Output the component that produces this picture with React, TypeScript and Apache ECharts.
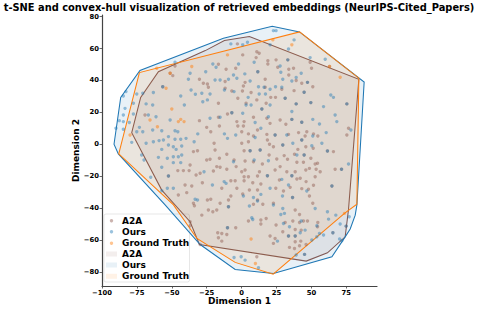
import React, { useEffect, useRef } from "react";
import * as echarts from "echarts";

const titleText = "t-SNE and convex-hull visualization of retrieved embeddings (NeurIPS-Cited_Papers)";
const xTicks = [-100, -75, -50, -25, 0, 25, 50, 75];
const yTicks = [-80, -60, -40, -20, 0, 20, 40, 60, 80];
const legendNames = ["A2A", "Ours", "Ground Truth"];

const hullOurs = [[-91.4,0],[-86.6,29.4],[-72.8,46.2],[-13,66.4],[21.9,74],[41.5,70.4],[87.8,39],[82.6,-38],[81.4,-44.4],[77.8,-53.1],[74.2,-58],[64.7,-70.5],[22.8,-81],[-4.6,-78.4],[-29.7,-62.8],[-54.8,-38],[-88.3,-6]];
const hullTruth = [[-88,-6],[-73.2,44.9],[41.5,70.4],[84,41.4],[82.6,-37.5],[73.7,-43.3],[22.6,-81.4],[-4.6,-74],[-32,-59],[-48.8,-38]];
const hullA2A = [[-78.7,7.3],[-72.3,29.4],[-59.6,45.5],[-26,58.7],[-12.3,65],[5.6,67.5],[84,40.7],[76.6,-40.8],[74.2,-58],[61.5,-68],[46.3,-73.2],[-30.2,-62.8],[-36.9,-48.5],[-57.2,-28.7]];

// points that sit in both the A2A and the Ours clouds
const sharedPoints = [[-56.5,36.1],[33.1,52.9],[11.6,45.5],[47.2,38.8],[44.8,32.6],[31.2,28.8],[39.1,25.3],[49.6,26.1],[75.4,25.3],[14.5,22.1],[-52.4,-19.9],[-7,19.8],[24,5.8],[36,15.6],[43.1,13.8],[43.1,2.7],[29.5,-0.4],[6.1,-4],[13.3,-3.6],[44.8,-6.7],[61.5,-4.2],[36,-19.7],[18.5,-19.7],[64.7,-26.2],[36.5,-33.3],[71.6,-15.7],[-10.1,-52.3],[-9.4,-39.1],[65.4,-55.4],[33.6,-57.5],[38.4,-57.5],[74.9,-51.3],[45.1,-69]];

const oursPoints = [[-84.7,30.3],[-82.8,33],[-83.5,22.5],[-77.5,25.7],[-75.1,31.5],[-70.8,32],[-68.4,25.3],[-63.7,24.6],[-63.2,32.4],[-47.7,51.4],[-43.6,30.3],[-41,24.6],[-38.1,40.7],[-36.9,44.5],[-36.2,34],[-33.1,31.3],[-28.5,32],[-27.8,26.7],[-25.7,45.5],[-22.6,31.5],[-24.5,27.8],[-20.6,50.3],[-18.3,48.3],[-19,40.3],[-15.4,40.3],[-12.3,34],[-9.4,40.7],[-5.8,43.4],[-5.4,33],[-3.4,41.4],[-7.7,62.9],[-2.2,50.3],
[22.8,71.2],[24.7,71.2],[0.8,62.3],[4.2,63.9],[20.4,62.3],[33.6,59.7],[37.6,65.4],[49.1,54.3],[59.9,53.3],[9,51.4],[27.6,49.1],[28.1,45.1],[2.3,44.1],[6.1,39.7],[29.5,40.7],[36,39.7],[39.1,41.8],[42.7,44.5],[12.1,36.1],[16.1,35.7],[12.6,31.5],[17.1,31.5],[20.4,34.5],[24.3,36.1],[28.8,35.7],[4.7,29.4],[63.9,30.9],[65.8,29.4],[58.7,23.6],[3.2,24.6],[6.8,24.6],[20.4,24.6],
[-84.7,18.4],[-87.6,14.8],[-90,10],[-84.7,14.2],[-84.7,9.4],[-80.4,13.6],[-78.7,1.2],[-77.5,19],[-75.1,7.9],[-73.2,10.6],[-70.8,7.9],[-66.8,18.4],[-61.3,17.3],[-63.7,9],[-57.2,8.5],[-68.4,0.6],[-63.2,1.6],[-59.1,2.3],[-56,2.7],[-47.7,8.5],[-45.7,7.9],[-51.2,15.2],[-52.4,4.8],[-47.7,3.1],[-43.6,3.1],[-39.8,3.7],[-57.2,-3.2],[-52.4,-0.4],[-48.9,-1.5],[-46.9,-3.2],[-42.9,-1.1],[-34,1.6],[-31.4,6.5],[-59.6,-8.2],[-53.2,-8.8],[-48.9,-7.8],[-45.3,-7.8],[-42.9,-6.7],[-71.6,-6.7],[-69.9,-9.9],[-57.2,-14.4],[-48.9,-11.5],[-43.6,-11.5],[-65.1,-20.7],[-57.2,-29.1],[-53.2,-27.6],[-48.9,-27.6],[-12.3,6.5],[-10.1,3.7],[-4.2,5.8],[-5.8,-10.9],[-26.9,-17.2],[-12.5,-23.4],[-11.1,-24.5],[-20.9,-25.5],[-33.3,-34.5],[-31.6,-34.9],[-22.6,16.3],[-15.4,16.9],
[0.8,19.4],[19.2,17.3],[9.7,13.6],[13.8,10],[9.7,4.2],[32.4,5.8],[51,15.6],[55.8,12.7],[36,20.5],[67,18.4],[68.2,14.2],[36.7,0.6],[51,5.2],[60.6,7.3],[50.3,-0.9],[57.5,0.6],[39.6,-6.7],[19.2,-10.3],[9,-9.9],[28.8,-22],[33.6,-25.5],[20.4,-27.6],[46.7,-29.3],[1.3,-32.4],[8.5,-33.3],[13.8,-31.4],[29.3,-32.4],[5.6,-38.7],[11.4,-35.6],[22.8,-38.1],[29.5,-40.2],[52.7,-40.2],[78.3,9],[76.6,-12.4],
[-5.4,-70.9],[61.5,-42.3],[30.7,-43.3],[28.1,-44],[7.3,-46],[8,-47.1],[42.7,-48.1],[30,-49.6],[34.3,-51.7],[62.3,-46.9],[67.5,-44.4],[77.1,-45.4],[70.6,-50],[53.9,-51.1],[45.5,-53.8],[50.3,-60],[53.9,-58],[55.8,-55.9],[58.7,-56.9],[25.7,-60.7],[42,-55.4],[70.2,-59.4],[71.8,-60.5],[39.1,-69.4],[2.5,-72.6],[12.1,-77.4],[-0.3,-70.5]];

const a2aPoints = [[-49.3,43],[-51.2,44.5],[-47.7,49.1],[-30.2,40.7],[-27.4,38.2],[-24.5,37.8],[-23.8,35.7],[-16.6,50.1],[-16.6,25.7],[-11.8,39.3],[-11.8,35.1],[-11.1,47],[-7,33.4],[-4.2,47.6],[-2.7,28.8],[-3,62.9],
[0.8,56],[10.9,58],[12.6,57],[10.4,54.3],[18.8,52.4],[18.8,50.3],[24.7,52.9],[25.9,48.3],[33.8,47],[33.8,43.4],[37.2,47.6],[50.1,47.6],[49.1,51.4],[16.9,40.7],[2.5,38.8],[1.3,36.5],[0.6,33.4],[6.8,32.4],[16.9,35.7],[20.9,29.4],[24.3,29.4],[39.1,39.9],[43.1,38.2],[51,36.1],[28.8,34.5],[37.6,33.6],[10.9,27.8],[17.6,25.7],[3.2,25.7],[63,48.7],
[-69.2,18.4],[-30.2,14.8],[-16.6,16.9],[-15.9,11.5],[-10.1,19],[-3.4,14.2],[-2.7,11.5],[-34.5,-4.6],[-31.6,-4],[-36.9,-13],[-45.7,-16.5],[-41.7,-16.5],[-37.6,-16.5],[-32.6,-19.3],[-29.7,-18.2],[-19,-3.6],[-19.7,0.6],[-25,-9.9],[-22.6,-9.4],[-15.9,-8.8],[-10.6,-6.3],[-5.4,-9.9],[-17.8,-14],[-15.4,-14.4],[-10.6,-15.7],[-3.9,-14],[-35.7,-26.2],[-40.5,-25.5],[-20.2,-16.7],[-28.1,-24.1],[-39.3,-30.3],[-45.3,-31.8],[-24.5,-34.9],[-22.1,-34.5],[-7.7,-32.4],[-3.4,-27.6],[-7.7,-22.8],[-4.6,-22.8],[-14.2,-27.6],[-34.5,-37],[-15.4,-37],[-9.4,-34.9],[-25,10.6],[-22.1,7.9],
[8.5,16.9],[18.1,16.3],[1.8,14.2],[1.3,11.5],[20.4,13.1],[27.6,15.2],[31.7,12.5],[0.1,7.9],[4.9,6.5],[11.4,9],[8.5,5.2],[18.1,6.2],[18.5,2.7],[4.9,1.6],[0.1,0.6],[20,0],[22.8,-1.5],[46.7,7.9],[40.8,7.3],[33.6,6.2],[45.5,5.2],[51.5,6.5],[54.6,5.2],[40.3,-3.2],[46,-1.5],[51.3,-2.5],[1.8,-4],[19.7,-6.7],[30.5,-7.1],[37.9,-6.3],[25.2,-9.2],[32.9,-9.4],[49.6,-8.8],[2.5,-10.5],[8.5,-10.9],[14.9,-12.4],[27.6,-14],[24,-16.1],[39.6,-11.3],[44.3,-11.3],[52.7,-12.4],[54.4,-11.9],[46,-16.1],[48.6,-15.1],[53.4,-15.7],[56.3,-17.2],[67,-15.7],[0.1,-17.2],[2.5,-16.1],[12.8,-17.2],[32.4,-17.2],[38.4,-17.2],[1.8,-20.3],[4.9,-20.3],[11.4,-19.9],[39.6,-21.8],[42,-21.3],[52.7,-20.3],[27.1,-22.4],[46.2,-23.4],[8,-24.1],[13.8,-24.9],[1.8,-22.8],[51.5,-25.7],[34.8,-27],[24.5,-27.6],[43.1,-27.8],[47.9,-28.2],[30,-29.3],[5.6,-28.7],[11.4,-28.7],[0.8,-31.2],[48.6,-32.4],[11.4,-34.9],[8.5,-37.6],[15.2,-37.6],[22.8,-37],[51,-37],[76.6,10],[75.4,5.8],[65.8,-4.6],
[-28.5,-44.4],[-23.8,-41.2],[-20.6,-42.3],[-17.8,-41.2],[-4.2,-52.3],[-17.1,-55.4],[-14.2,-55.9],[-10.6,-56.5],[-14.2,-60.7],[-16.6,-58.6],[-33.8,-38.5],[-36.9,-48.5],[-36.9,-51],[-29.7,-62.8],
[38.4,-41.2],[41.5,-44],[4.9,-48.1],[13.8,-47.5],[13.8,-50],[17.6,-46.5],[24.7,-50.6],[31.2,-49],[36.7,-48.1],[41.5,-49],[44.3,-48.1],[47.2,-48.1],[54.6,-49],[54.4,-51.7],[38.4,-53.4],[29.5,-54.8],[42.7,-53.8],[20.4,-57.5],[24,-59],[22.8,-62.1],[34.3,-64.6],[37.9,-65.3],[38.4,-61.1],[42.4,-60.7],[41.5,-63.6],[46.2,-62.8],[10.9,-70.5]];

const truthPoints = [[-60.8,47.6],[-54.1,35.1],[-51.2,44.5],[-35.7,48.7],[-10.1,56],[-50,22.1],[36,62.3],[22.4,65.4],[70.6,42],[63,48.7],[-65.6,15.2],[-60.3,11],[-79.9,5.8],[-45.3,14.2],[-43.6,15.6],[-41.2,14.2],[6.8,-59.4],[9.9,-74.7],[73.7,-43.3]];

const BROWN = "#8c564b";
const BLUE = "#1f77b4";
const ORANGE = "#ff7f0e";
const FONT = "DejaVu Sans";

const hullSeries = (name: string, hull: number[][], color: string) => ({
  type: "custom",
  name,
  data: hull,
  encode: { x: 0, y: 1 },
  clip: false,
  renderItem: (params: any, api: any) => {
    if (params.dataIndex !== 0) return null;
    const pts = hull.map((p) => api.coord(p));
    return {
      type: "polygon",
      shape: { points: pts },
      style: { fill: echarts.color.modifyAlpha(color, 0.1), stroke: color, lineWidth: 1.05 },
    };
  },
});

const scatterSeries = (name: string, data: number[][], color: string, opacity: number) => ({
  type: "scatter",
  name,
  data,
  symbolSize: 3.4,
  itemStyle: { color, opacity },
});

export default function App() {
  const ref = useRef<HTMLDivElement>(null);
  useEffect(() => {
    const chart = echarts.init(ref.current!, undefined, { renderer: "svg" });
    const rowY = [220.7, 231.8, 243.2, 254, 265, 276.3];
    const colors = [BROWN, BLUE, ORANGE];
    const legendItems: any[] = [
      { type: "rect", shape: { x: 104, y: 214, width: 85.5, height: 68, r: 2 }, style: { fill: "rgba(255,255,255,0.8)", stroke: "rgba(204,204,204,0.8)", lineWidth: 0.6 } },
    ];
    legendNames.forEach((n, i) => {
      legendItems.push({ type: "circle", shape: { cx: 111.5, cy: rowY[i], r: 1.7 }, style: { fill: colors[i], opacity: 0.45 } });
      legendItems.push({ type: "text", x: 122, y: rowY[i], style: { text: n, font: `bold 9px '${FONT}'`, fill: "#000", verticalAlign: "middle" } });
      legendItems.push({ type: "rect", shape: { x: 106, y: rowY[i + 3] - 2.5, width: 11, height: 5 }, style: { fill: echarts.color.modifyAlpha(colors[i], 0.1) } });
      legendItems.push({ type: "text", x: 122, y: rowY[i + 3], style: { text: n, font: `bold 9px '${FONT}'`, fill: "#000", verticalAlign: "middle" } });
    });
    const axisBase = {
      type: "value",
      nameLocation: "middle",
      nameMoveOverlap: false,
      nameTextStyle: { fontFamily: FONT, fontWeight: "bold", fontSize: 9, color: "#000" },
      splitLine: { show: false },
      axisLine: { show: true, onZero: false, lineStyle: { color: "#444", width: 1.2 } },
    };
    const tickFmt = (v: number) => String(v).replace("-", "\u2212");
    chart.setOption({
      animation: false,
      title: {
        text: titleText,
        left: 239,
        top: 2,
        padding: 0,
        textAlign: "center",
        textStyle: { fontFamily: FONT, fontWeight: "bold", fontSize: 9.87, color: "#000" },
      },
      grid: { left: 102, right: 101, top: 15, bottom: 25, outerBoundsMode: "none" },
      xAxis: {
        ...axisBase,
        name: "Dimension 1",
        nameGap: 10,
        min: -100,
        max: 97,
        axisTick: { show: true, length: 2.5, customValues: xTicks, lineStyle: { color: "#444", width: 0.8 } },
        axisLabel: { customValues: xTicks, formatter: tickFmt, fontFamily: FONT, fontWeight: "bold", fontSize: 6.8, color: "#000", margin: 3 },
      },
      yAxis: {
        ...axisBase,
        name: "Dimension 2",
        nameGap: 21.5,
        min: -88.8,
        max: 81,
        axisTick: { show: true, length: 2.5, customValues: yTicks, lineStyle: { color: "#444", width: 0.8 } },
        axisLabel: { customValues: yTicks, formatter: tickFmt, fontFamily: FONT, fontWeight: "bold", fontSize: 6.8, color: "#000", margin: 3 },
      },
      series: [
        scatterSeries("A2A", a2aPoints.concat(sharedPoints), BROWN, 0.45),
        scatterSeries("Ours", oursPoints.concat(sharedPoints), BLUE, 0.45),
        scatterSeries("Ground Truth", truthPoints, ORANGE, 0.5),
        hullSeries("A2A hull", hullA2A, BROWN),
        hullSeries("Ours hull", hullOurs, BLUE),
        hullSeries("Ground Truth hull", hullTruth, ORANGE),
      ],
      graphic: { elements: [{ type: "group", z: 100, children: legendItems }] },
    });
    return () => chart.dispose();
  }, []);
  return <div ref={ref} style={{ position: "absolute", left: 0, top: 0, width: 478, height: 311 }} />;
}
